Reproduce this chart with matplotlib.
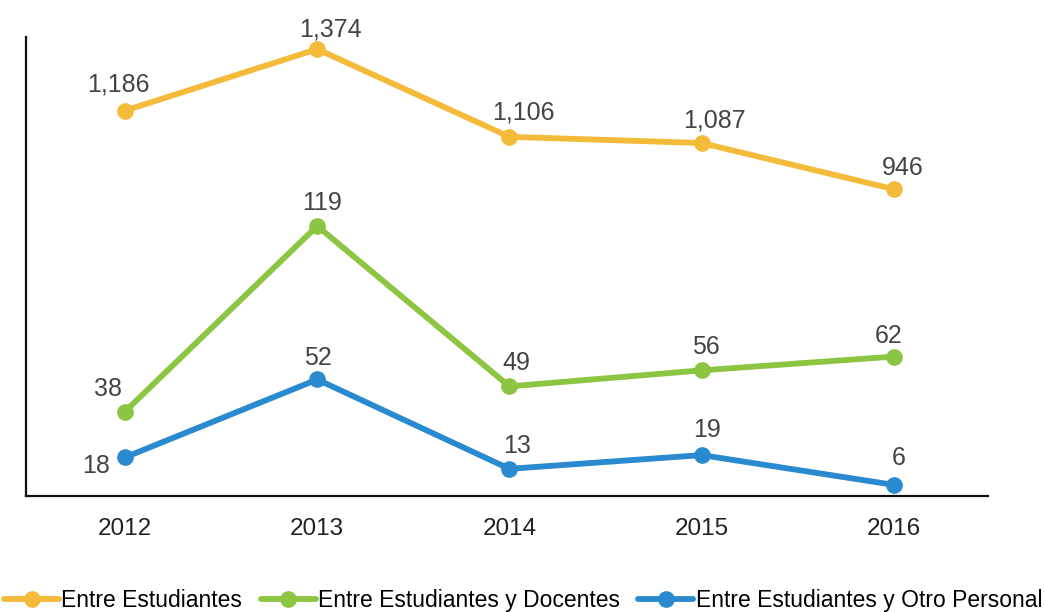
#!/usr/bin/env python3
"""Line chart of conflict counts by year, three series, yellow on its own scale."""

import matplotlib

matplotlib.use("Agg")

import matplotlib.pyplot as plt

years = ["2012", "2013", "2014", "2015", "2016"]
estudiantes = [1186, 1374, 1106, 1087, 946]
docentes = [38, 119, 49, 56, 62]
otro_personal = [18, 52, 13, 19, 6]
series_names = [
    "Entre Estudiantes",
    "Entre Estudiantes y Docentes",
    "Entre Estudiantes y Otro Personal",
]

YELLOW = "#F4BA3A"
GREEN = "#8CC541"
BLUE = "#2A8ACF"
LABEL_COLOR = "#444444"

# label centre offsets in pixels (dx, dy up) relative to each point
offsets_yellow = [(-7, 26), (13, 20), (14, 24), (13, 23), (9, 21)]
offsets_green = [(-17, 23), (5, 23), (7, 23), (4, 23), (-5, 21)]
offsets_blue = [(-29, -9), (1, 21), (8, 23), (5, 25), (5, 27)]

plt.rcParams["font.family"] = ["Liberation Sans", "DejaVu Sans"]

fig = plt.figure(figsize=(10.44, 6.12), dpi=100)
ax = fig.add_axes([0.0249, 0.1895, 0.9215, 0.75])
ax2 = ax.twinx()

x = list(range(len(years)))
line_kw = dict(linewidth=4.2, marker="o", markersize=11, solid_capstyle="round")

(l_green,) = ax.plot(x, docentes, color=GREEN, label=series_names[1], **line_kw)
(l_blue,) = ax.plot(x, otro_personal, color=BLUE, label=series_names[2], **line_kw)
(l_yellow,) = ax2.plot(x, estudiantes, color=YELLOW, label=series_names[0], **line_kw)

ax.set_xlim(-0.515, 4.49)
ax.set_ylim(1.13, 201.5)
ax2.set_ylim(8.0, 1411)


def add_labels(axis, values, offsets):
    for i, (v, (dx, dy)) in enumerate(zip(values, offsets)):
        axis.annotate(
            f"{v:,}",
            (i, v),
            xytext=(dx, dy),
            textcoords="offset pixels",
            ha="center",
            va="center",
            fontsize=18,
            color=LABEL_COLOR,
        )


add_labels(ax2, estudiantes, offsets_yellow)
add_labels(ax, docentes, offsets_green)
add_labels(ax, otro_personal, offsets_blue)

for a in (ax, ax2):
    for side in ("top", "right"):
        a.spines[side].set_visible(False)
ax2.spines["left"].set_visible(False)
ax2.spines["bottom"].set_visible(False)
ax2.set_yticks([])
ax.set_yticks([])
for side in ("left", "bottom"):
    ax.spines[side].set_linewidth(1.6)
    ax.spines[side].set_color("#111111")

ax.set_xticks(x)
ax.set_xticklabels(years)
ax.tick_params(axis="x", length=0, pad=16, labelsize=17.5, labelcolor="#222222")

fig.legend(
    [l_yellow, l_green, l_blue],
    series_names,
    loc="center",
    bbox_to_anchor=(0.501, 0.018),
    ncol=3,
    frameon=False,
    fontsize=16.5,
    handlelength=2.4,
    handletextpad=0.1,
    columnspacing=0.8,
    borderpad=0,
    borderaxespad=0,
)

fig.savefig("out.png", dpi=100)
plt.close(fig)
